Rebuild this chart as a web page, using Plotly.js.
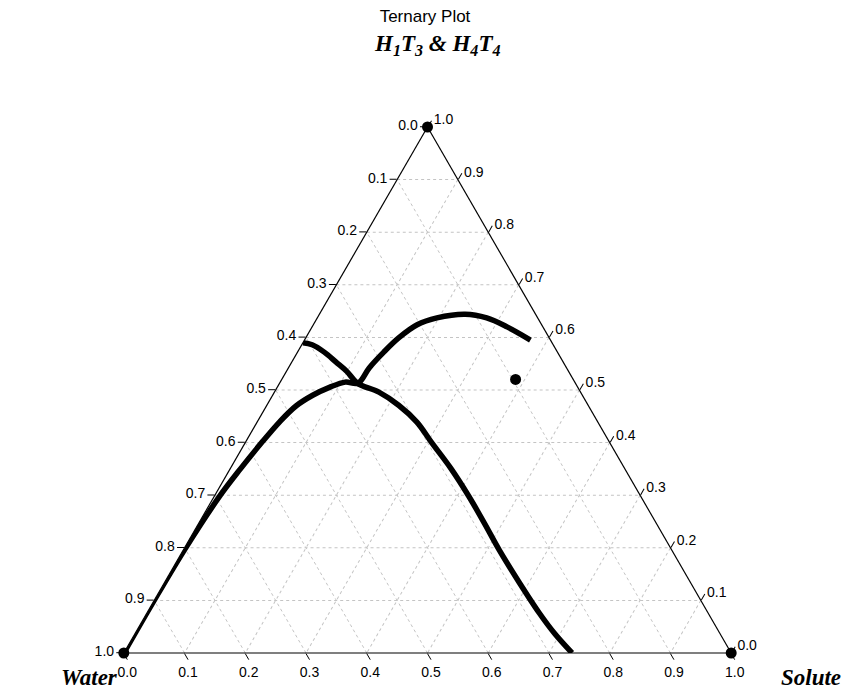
<!DOCTYPE html>
<html>
<head>
<meta charset="utf-8">
<script src="https://cdn.plot.ly/plotly-3.0.1.min.js"></script>
<style>html,body{margin:0;padding:0;background:#fff;}#chart{width:850px;height:691px;}</style>
</head>
<body>
<div id="chart"></div>
<script>
// Ternary components: a = top vertex, b = Water (bottom-left), c = Solute (bottom-right)
// Curve 1 (descending): from left edge through junction down to bottom edge
const curve1A = [0.590, 0.586, 0.572, 0.553, 0.535, 0.513, 0.496, 0.471, 0.439, 0.399, 0.350, 0.297, 0.245, 0.196, 0.135, 0.076, 0.036, 0.000];
const curve1C = [0.000, 0.017, 0.044, 0.073, 0.100, 0.128, 0.172, 0.217, 0.263, 0.308, 0.364, 0.420, 0.472, 0.520, 0.583, 0.646, 0.692, 0.738];
// Curve 2: from Water vertex rising along left edge, through junction, then arc to the right
const curve2A = [0.000, 0.100, 0.200, 0.300, 0.350, 0.400, 0.440, 0.470, 0.490, 0.505, 0.515, 0.513, 0.542, 0.572, 0.599, 0.624, 0.637, 0.644, 0.637, 0.620, 0.595];
const curve2C = [0.000, 0.000, 0.002, 0.009, 0.017, 0.027, 0.037, 0.049, 0.066, 0.086, 0.107, 0.129, 0.133, 0.142, 0.153, 0.171, 0.197, 0.240, 0.279, 0.321, 0.372];
// Single points: three vertices and one interior point
const pointsA = [1, 0, 0, 0.52];
const pointsC = [0, 0, 1, 0.385];
const tickVals = [0, 0.1, 0.2, 0.3, 0.4, 0.5, 0.6, 0.7, 0.8, 0.9, 1.0];
const tickText = ['1.0', '0.9', '0.8', '0.7', '0.6', '0.5', '0.4', '0.3', '0.2', '0.1', '0.0'];

const bOf = (A, C) => A.map((a, i) => Math.max(0, 1 - a - C[i]));

const traces = [
  {type: 'scatterternary', mode: 'lines', a: curve1A, b: bOf(curve1A, curve1C), c: curve1C,
   line: {color: '#000', width: 5.5, shape: 'spline', smoothing: 1}, hoverinfo: 'skip', showlegend: false},
  {type: 'scatterternary', mode: 'lines', a: curve2A, b: bOf(curve2A, curve2C), c: curve2C,
   line: {color: '#000', width: 5.5, shape: 'spline', smoothing: 1}, hoverinfo: 'skip', showlegend: false},
  {type: 'scatterternary', mode: 'markers', a: pointsA, b: bOf(pointsA, pointsC), c: pointsC,
   marker: {color: '#000', size: 11}, cliponaxis: false, hoverinfo: 'skip', showlegend: false}
];

function axis() {
  return {
    title: {text: ''},
    min: 0,
    tickmode: 'array', tickvals: tickVals, ticktext: tickText,
    ticks: 'outside', ticklen: 7, tickwidth: 1, tickcolor: '#000',
    tickfont: {family: 'Liberation Sans, Arial', size: 14, color: '#000'},
    linecolor: '#000', linewidth: 1.2, showline: true,
    showgrid: true, gridcolor: '#c4c4c4', gridwidth: 1, griddash: 'dot',
    layer: 'below traces'
  };
}

const vertexFont = {family: 'Liberation Serif', size: 23, color: '#000'};

const layout = {
  width: 850, height: 691,
  paper_bgcolor: '#fff', plot_bgcolor: '#fff',
  margin: {l: 122, r: 117, t: 127, b: 38},
  title: {text: 'Ternary Plot', x: 0.5, xanchor: 'center', y: 0.985, yanchor: 'top',
          font: {family: 'Liberation Sans, Arial', size: 17, color: '#000'}},
  ternary: {
    sum: 1,
    bgcolor: '#fff',
    aaxis: axis(),
    baxis: axis(),
    caxis: axis()
  },
  annotations: [
    {text: '<b><i>H<sub>1</sub>T<sub>3</sub> &amp; H<sub>4</sub>T<sub>4</sub></i></b>', xref: 'paper', yref: 'paper',
     x: 0.515, y: 1.0, yshift: 82, xanchor: 'center', yanchor: 'middle', showarrow: false,
     font: {family: 'Liberation Serif', size: 23, color: '#000'}},
    {text: '<b><i>Water</i></b>', xref: 'paper', yref: 'paper', x: -0.054, y: -0.046,
     xanchor: 'center', yanchor: 'middle', showarrow: false, font: vertexFont},
    {text: '<b><i>Solute</i></b>', xref: 'paper', yref: 'paper', x: 1.128, y: -0.046,
     xanchor: 'center', yanchor: 'middle', showarrow: false, font: vertexFont}
  ],
  showlegend: false
};

Plotly.newPlot('chart', traces, layout, {displayModeBar: false, staticPlot: true});
</script>
</body>
</html>
